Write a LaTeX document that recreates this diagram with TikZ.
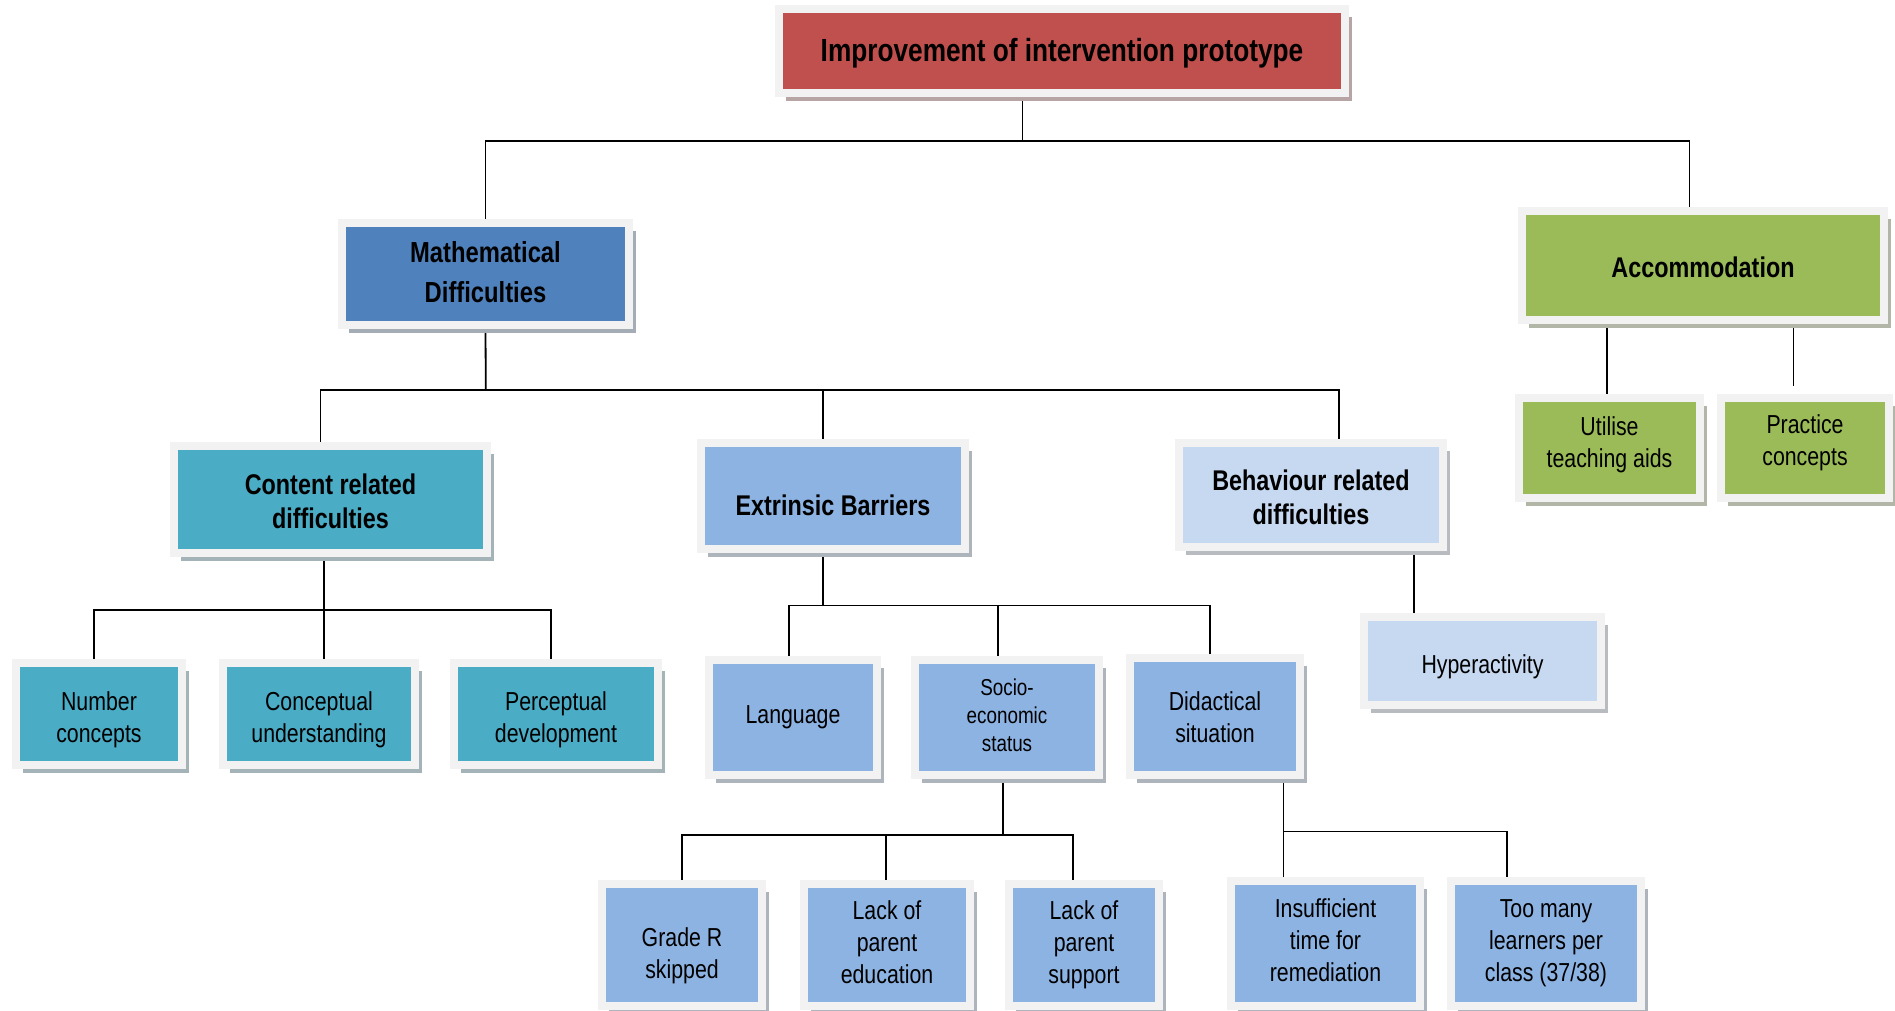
\documentclass[tikz,border=0pt]{standalone}
\usepackage{fontspec}
\setmainfont{Liberation Sans}[FakeStretch=0.82]
\usetikzlibrary{shadows,backgrounds}
\definecolor{cRed}{HTML}{C0504D}
\definecolor{cBlue}{HTML}{4F81BD}
\definecolor{cGreen}{HTML}{9BBB59}
\definecolor{cTeal}{HTML}{4BACC6}
\definecolor{cLight}{HTML}{8DB3E2}
\definecolor{cPale}{HTML}{C6D9F1}
\definecolor{cFrame}{HTML}{F2F2F2}
% #1 = downward shift of the text, #2 = lines
\newcommand\boxtxt[2]{\raisebox{-#1pt}[\height][\depth]{\begin{tabular}{@{}c@{}}#2\end{tabular}}}
\tikzset{
  box/.style={draw=cFrame, line width=8pt, inner sep=0pt, fill=#1,
    drop shadow={shadow xshift=7pt, shadow yshift=-8pt, fill=#1!25!gray!65!white, opacity=1}},
  conn/.style={draw=black, line width=1.8pt},
  ftitle/.style={font=\fontsize{32}{38}\selectfont\bfseries},
  fhead/.style={font=\fontsize{28.5}{34}\selectfont\bfseries},
  fmath/.style={font=\fontsize{29}{40}\selectfont\bfseries},
  freg/.style={font=\fontsize{26}{32}\selectfont},
  fsmall/.style={font=\fontsize{23}{28}\selectfont},
}
\begin{document}
\begin{tikzpicture}[x=1pt,y=-1pt]
\useasboundingbox (0,0) rectangle (1895,1011);
% level 0
\node[box=cRed, ftitle, minimum width=566pt, minimum height=84pt] (top) at (1062,51) {\boxtxt{3}{Improvement of intervention prototype}};
% level 1
\node[box=cBlue, fmath, minimum width=287pt, minimum height=102pt] (math) at (485.5,274) {\boxtxt{0}{Mathematical\\Difficulties}};
\node[box=cGreen, fhead, minimum width=362pt, minimum height=109pt] (acc) at (1703,265.5) {\boxtxt{5.5}{Accommodation}};
% level 2
\node[box=cTeal, fhead, minimum width=313pt, minimum height=107pt] (cont) at (330.5,499.5) {\boxtxt{5.5}{Content related\\difficulties}};
\node[box=cLight, fhead, minimum width=264pt, minimum height=106pt] (extr) at (833,496) {\boxtxt{12.5}{Extrinsic Barriers}};
\node[box=cPale, fhead, minimum width=264pt, minimum height=104pt] (beh) at (1311,495) {\boxtxt{5.5}{Behaviour related\\difficulties}};
\node[box=cGreen, freg, minimum width=181pt, minimum height=100pt] (util) at (1609.5,448) {\boxtxt{-3}{Utilise\\teaching aids}};
\node[box=cGreen, freg, minimum width=168pt, minimum height=100pt] (prac) at (1805,448) {\boxtxt{-5.4}{Practice\\concepts}};
% level 3
\node[box=cTeal, freg, minimum width=166pt, minimum height=102pt] (num) at (99,714) {\boxtxt{6}{Number\\concepts}};
\node[box=cTeal, freg, minimum width=192pt, minimum height=102pt] (conc) at (319,714) {\boxtxt{6}{Conceptual\\understanding}};
\node[box=cTeal, freg, minimum width=204pt, minimum height=102pt] (perc) at (556,714) {\boxtxt{6}{Perceptual\\development}};
\node[box=cLight, freg, minimum width=168pt, minimum height=115pt] (lang) at (793,717.5) {\boxtxt{0}{Language}};
\node[box=cLight, fsmall, minimum width=184pt, minimum height=115pt] (socio) at (1007,717.5) {\boxtxt{0}{Socio-\\economic\\status}};
\node[box=cLight, freg, minimum width=170pt, minimum height=117pt] (did) at (1215,716.5) {\boxtxt{4}{Didactical\\situation}};
\node[box=cPale, freg, minimum width=237pt, minimum height=88pt] (hyp) at (1482.5,661) {\boxtxt{6}{Hyperactivity}};
% level 4
\node[box=cLight, freg, minimum width=160pt, minimum height=122pt] (grade) at (682,945) {\boxtxt{11}{Grade R\\skipped}};
\node[box=cLight, freg, minimum width=166pt, minimum height=122pt] (ledu) at (887,945) {\boxtxt{0}{Lack of\\parent\\education}};
\node[box=cLight, freg, minimum width=150pt, minimum height=122pt] (lsup) at (1084,945) {\boxtxt{0}{Lack of\\parent\\support}};
\node[box=cLight, freg, minimum width=189pt, minimum height=125pt] (insuf) at (1325.5,943.5) {\boxtxt{0}{Insufficient\\time for\\remediation}};
\node[box=cLight, freg, minimum width=190pt, minimum height=125pt] (many) at (1546,943.5) {\boxtxt{0}{Too many\\learners per\\class (37/38)}};
% connectors
\begin{scope}[on background layer]
\coordinate (j0) at (1022.4,141.4);
\draw[conn] (top.south -| j0) -- (j0);
\draw[conn] (math.north) |- (j0) -| ([xshift=-13.5pt]acc.north);
\coordinate (j1) at (485.8,390.3);
\draw[conn] (math.south) -- (j1);
\draw[conn] ([xshift=-10pt]cont.north) |- (j1) -| ([xshift=28pt]beh.north);
\draw[conn] ([xshift=-10pt]extr.north) -- ([xshift=-10pt]extr.north |- j1);
\coordinate (j2) at (323.9,610.3);
\draw[conn] ([xshift=-6.6pt]cont.south) -- (j2);
\draw[conn] ([xshift=-4.7pt]num.north) |- (j2) -| ([xshift=-5pt]perc.north);
\draw[conn] ([xshift=4.9pt]conc.north) -- ([xshift=4.9pt]conc.north |- j2);
\coordinate (j3) at (823,605.5);
\draw[conn] ([xshift=-10pt]extr.south) -- (j3);
\draw[conn] ([xshift=-4pt]lang.north) |- (j3) -| ([xshift=-5.3pt]did.north);
\draw[conn] ([xshift=-8.8pt]socio.north) -- ([xshift=-8.8pt]socio.north |- j3);
\coordinate (j4) at (1003,835);
\draw[conn] ([xshift=-4pt]socio.south) -- (j4);
\draw[conn] (grade.north) |- (j4) -| ([xshift=-11pt]lsup.north);
\draw[conn] ([xshift=-1.2pt]ledu.north) -- ([xshift=-1.2pt]ledu.north |- j4);
\coordinate (j5) at (1283.4,831.4);
\draw[conn] ([xshift=68.4pt]did.south) -- (j5);
\draw[conn] ([xshift=-42pt]insuf.north) -- ([xshift=-42pt]insuf.north |- j5) -| ([xshift=-39pt]many.north);
\draw[conn] ([xshift=103pt]beh.south) -- ([xshift=103pt]beh.south |- hyp.north);
\coordinate (pu) at (1607.3,0);
\coordinate (pp) at (1793.4,0);
\draw[conn] (acc.south -| pu) -- (util.north -| pu);
\draw[conn, shorten >=8pt] (acc.south -| pp) -- (prac.north -| pp);
\end{scope}
\end{tikzpicture}
\end{document}
